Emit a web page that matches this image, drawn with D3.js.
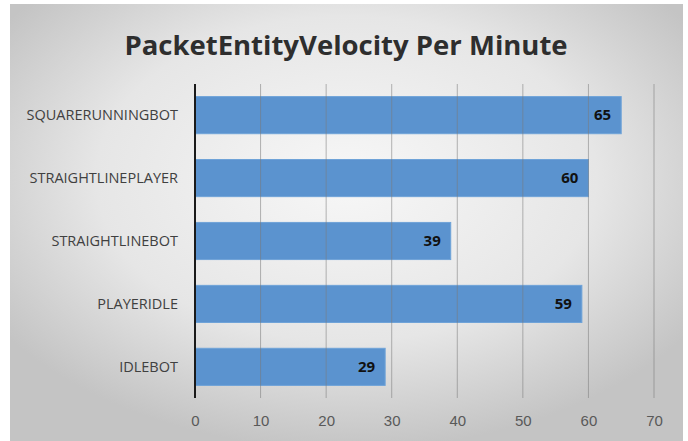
<!DOCTYPE html>
<html>
<head>
<meta charset="utf-8">
<script src="https://cdn.jsdelivr.net/npm/d3@7"></script>
<style>
  body { margin: 0; background: #fff; }
  svg { display: block; font-family: "Open Sans", "Noto Sans", sans-serif; }
</style>
</head>
<body>
<svg id="chart" width="688" height="441"></svg>
<script>
// --- данные ---
const categories = ["SQUARERUNNINGBOT", "STRAIGHTLINEPLAYER", "STRAIGHTLINEBOT", "PLAYERIDLE", "IDLEBOT"];
const values = [65, 60, 39, 59, 29];
const xTicks = [0, 10, 20, 30, 40, 50, 60, 70];

const svg = d3.select("#chart");

// фон с радиальным градиентом
const defs = svg.append("defs");
const grad = defs.append("radialGradient")
    .attr("id", "bg").attr("cx", "50%").attr("cy", "40%").attr("r", "62%");
grad.append("stop").attr("offset", "0%").attr("stop-color", "#f7f7f7");
grad.append("stop").attr("offset", "60%").attr("stop-color", "#e6e6e6");
grad.append("stop").attr("offset", "100%").attr("stop-color", "#c4c4c4");

svg.append("rect")
    .attr("x", 10).attr("y", 4).attr("width", 673).attr("height", 437)
    .attr("fill", "url(#bg)");

// заголовок
svg.append("text")
    .attr("x", 346).attr("y", 55)
    .attr("text-anchor", "middle")
    .style("font-size", "27.5px").style("font-weight", "700")
    .style("fill", "#2e2e2e")
    .text("PacketEntityVelocity Per Minute");

// --- шкалы ---
const x = d3.scaleLinear().domain([0, 70]).range([195, 654]);
const y = d3.scaleBand().domain(categories).range([84, 398]).paddingInner(0.41).paddingOuter(0.2);

// бары
svg.append("g").selectAll("rect")
    .data(values)
    .join("rect")
    .attr("x", x(0))
    .attr("y", (d, i) => y(categories[i]))
    .attr("width", d => x(d) - x(0))
    .attr("height", y.bandwidth())
    .attr("fill", "#5b93cf")
    .attr("stroke", "#6fa3d8")
    .attr("stroke-width", 1);

// сетка поверх баров (видна сквозь них)
svg.append("g")
    .selectAll("line")
    .data(xTicks.slice(1))
    .join("line")
    .attr("x1", d => x(d)).attr("x2", d => x(d))
    .attr("y1", 84).attr("y2", 398)
    .attr("stroke", "#7a7a7a")
    .attr("stroke-opacity", 0.55)
    .attr("stroke-width", 1);

// ось X
const xAxis = svg.append("g")
    .attr("transform", "translate(0,398)")
    .call(d3.axisBottom(x).tickValues(xTicks).tickSize(0).tickPadding(17));
xAxis.select(".domain").remove();
xAxis.selectAll("text")
    .style("font-size", "15px").style("fill", "#595959").style("font-family", "inherit");

// ось Y (линия + подписи)
svg.append("line")
    .attr("x1", x(0)).attr("x2", x(0))
    .attr("y1", 84).attr("y2", 398)
    .attr("stroke", "#1a1a1a").attr("stroke-width", 2);

svg.append("g").selectAll("text")
    .data(categories)
    .join("text")
    .attr("x", 178)
    .attr("y", d => y(d) + y.bandwidth() / 2)
    .attr("dy", "0.35em")
    .attr("text-anchor", "end")
    .style("font-size", "14.5px")
    .style("fill", "#404040")
    .text(d => d);

// подписи значений
svg.append("g").selectAll("text")
    .data(values)
    .join("text")
    .attr("x", d => x(d) - 10)
    .attr("y", (d, i) => y(categories[i]) + y.bandwidth() / 2)
    .attr("dy", "0.35em")
    .attr("text-anchor", "end")
    .style("font-size", "15px").style("font-weight", "700")
    .style("fill", "#111")
    .text(d => d);
</script>
</body>
</html>
